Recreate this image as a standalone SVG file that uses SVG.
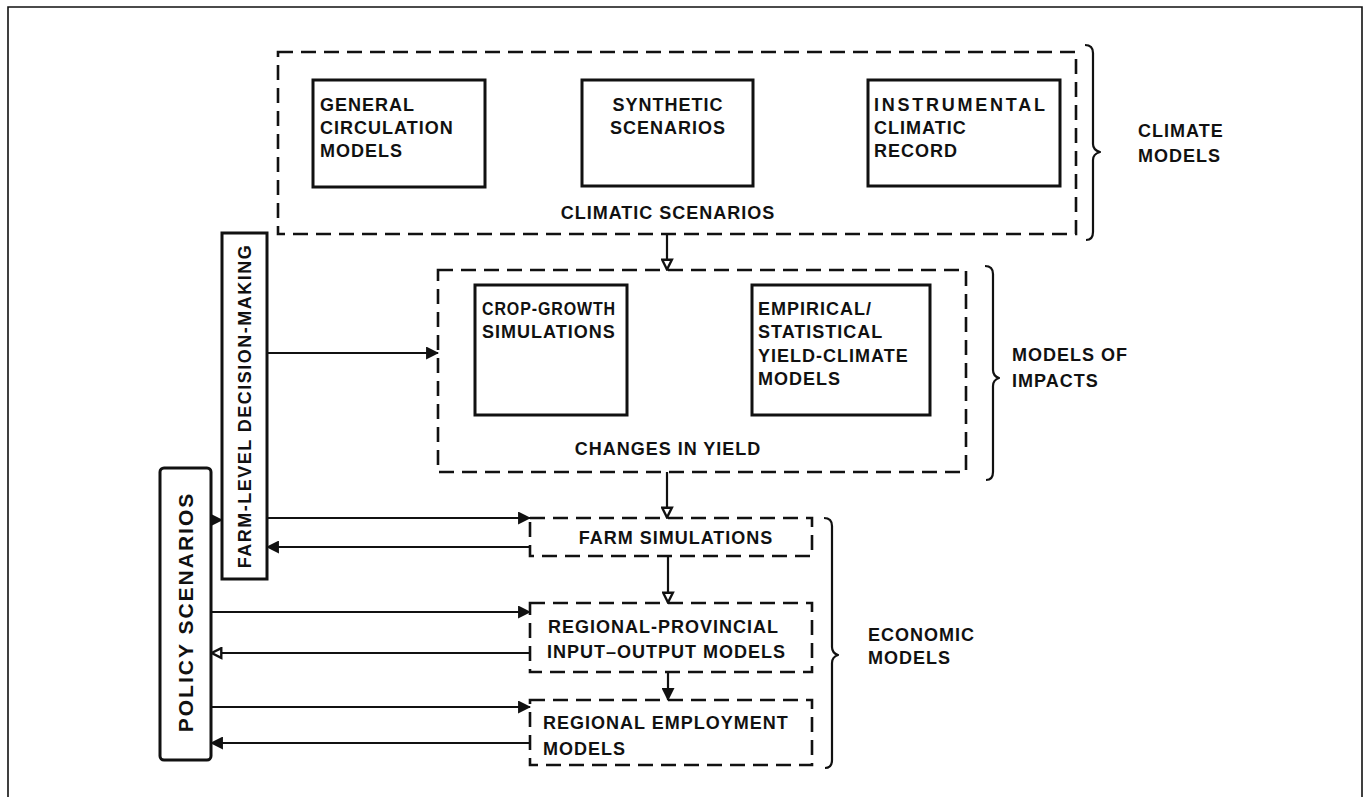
<svg xmlns="http://www.w3.org/2000/svg" width="1369" height="797" viewBox="0 0 1369 797">
<style>
text{font-family:"Liberation Sans",Arial,sans-serif;font-weight:bold;font-size:18px;letter-spacing:1px;fill:#111}
.solid{fill:#fff;stroke:#111;stroke-width:3}
.dash{fill:none;stroke:#111;stroke-width:2.6;stroke-dasharray:15 8}
.brace{fill:none;stroke:#111;stroke-width:2.2;stroke-linejoin:round}
.conn{fill:none;stroke:#111;stroke-width:2.2}
.mid{text-anchor:middle}
</style>
<defs>
<marker id="af" viewBox="0 0 12 12" refX="11" refY="6" markerWidth="13" markerHeight="13" orient="auto" markerUnits="userSpaceOnUse"><path d="M0,0 L12,6 L0,12 z" fill="#111"/></marker>
<marker id="ah" viewBox="0 0 12 12" refX="11" refY="6" markerWidth="13" markerHeight="13" orient="auto" markerUnits="userSpaceOnUse"><path d="M1.5,1.5 L10.5,6 L1.5,10.5 z" fill="#fff" stroke="#111" stroke-width="2.2"/></marker>
</defs>
<rect x="0" y="0" width="1369" height="797" fill="#fff"/>
<path d="M8 797 V7 H1362 V797" fill="none" stroke="#111" stroke-width="1.6"/>

<g id="climatic-scenarios">
<rect class="dash" x="278" y="52" width="798" height="182"/>
<text class="mid" x="668" y="219">CLIMATIC SCENARIOS</text>
</g>
<g id="gcm">
<rect class="solid" x="313" y="80" width="172" height="107"/>
<text x="320" y="111">GENERAL</text>
<text x="320" y="134">CIRCULATION</text>
<text x="320" y="157">MODELS</text>
</g>
<g id="synthetic">
<rect class="solid" x="582" y="80" width="171" height="106"/>
<text class="mid" x="668" y="111">SYNTHETIC</text>
<text class="mid" x="668" y="134">SCENARIOS</text>
</g>
<g id="instrumental">
<rect class="solid" x="868" y="80" width="192" height="106"/>
<text x="874" y="111" textLength="172" lengthAdjust="spacing">INSTRUMENTAL</text>
<text x="874" y="134">CLIMATIC</text>
<text x="874" y="157">RECORD</text>
</g>
<g id="climate-models">
<path class="brace" d="M1085 45 Q1093 45 1093 53 L1093 144 Q1093 150 1100 152 Q1093 154 1093 160 L1093 232 Q1093 240 1086 240"/>
<text x="1138" y="137">CLIMATE</text>
<text x="1138" y="162">MODELS</text>
</g>

<g id="changes-in-yield">
<rect class="dash" x="438" y="270" width="528" height="202"/>
<text class="mid" x="668" y="455">CHANGES IN YIELD</text>
</g>
<g id="crop-growth">
<rect class="solid" x="475" y="285" width="152" height="130"/>
<text x="482" y="315" textLength="134" lengthAdjust="spacingAndGlyphs">CROP-GROWTH</text>
<text x="482" y="338">SIMULATIONS</text>
</g>
<g id="empirical">
<rect class="solid" x="752" y="285" width="178" height="130"/>
<text x="758" y="315">EMPIRICAL/</text>
<text x="758" y="338">STATISTICAL</text>
<text x="758" y="362">YIELD-CLIMATE</text>
<text x="758" y="385">MODELS</text>
</g>
<g id="models-of-impacts">
<path class="brace" d="M985 266 Q993 266 993 274 L993 370 Q993 376 999 378 Q993 380 993 386 L993 472 Q993 480 986 480"/>
<text x="1012" y="361">MODELS OF</text>
<text x="1012" y="387">IMPACTS</text>
</g>

<g id="farm-level">
<rect class="solid" x="222" y="233" width="45" height="346"/>
<text class="mid" transform="translate(251,406) rotate(-90)" style="letter-spacing:1.5px">FARM-LEVEL DECISION-MAKING</text>
</g>
<g id="policy">
<rect class="solid" x="160" y="468" width="51" height="292" rx="4"/>
<text class="mid" transform="translate(193,612) rotate(-90)" style="font-size:21px;letter-spacing:2px">POLICY SCENARIOS</text>
</g>

<g id="farm-simulations">
<rect class="dash" x="530" y="518" width="282" height="38"/>
<text class="mid" x="676" y="544">FARM SIMULATIONS</text>
</g>
<g id="regional-provincial">
<rect class="dash" x="530" y="603" width="282" height="69"/>
<text x="548" y="633">REGIONAL-PROVINCIAL</text>
<text x="547" y="658">INPUT–OUTPUT MODELS</text>
</g>
<g id="regional-employment">
<rect class="dash" x="530" y="700" width="282" height="65"/>
<text x="543" y="729">REGIONAL EMPLOYMENT</text>
<text x="543" y="755">MODELS</text>
</g>
<g id="economic-models">
<path class="brace" d="M824 518 Q832 518 832 526 L832 647 Q832 653 838 655 Q832 657 832 663 L832 760 Q832 768 825 768"/>
<text x="868" y="641">ECONOMIC</text>
<text x="868" y="664">MODELS</text>
</g>

<g id="connectors">
<path class="conn" d="M667 234 V270" marker-end="url(#ah)"/>
<path class="conn" d="M267 353 H438" marker-end="url(#af)"/>
<path class="conn" d="M667 472 V518" marker-end="url(#ah)"/>
<path class="conn" d="M668 556 V603" marker-end="url(#ah)"/>
<path class="conn" d="M668 672 V700" marker-end="url(#af)"/>
<path class="conn" d="M211 520 H222" marker-end="url(#af)"/>
<path class="conn" d="M267 518 H530" marker-end="url(#af)"/>
<path class="conn" d="M530 547 H267" marker-end="url(#af)"/>
<path class="conn" d="M211 612 H530" marker-end="url(#af)"/>
<path class="conn" d="M530 653 H211" marker-end="url(#ah)"/>
<path class="conn" d="M211 707 H530" marker-end="url(#af)"/>
<path class="conn" d="M530 743 H211" marker-end="url(#af)"/>
</g>
</svg>
